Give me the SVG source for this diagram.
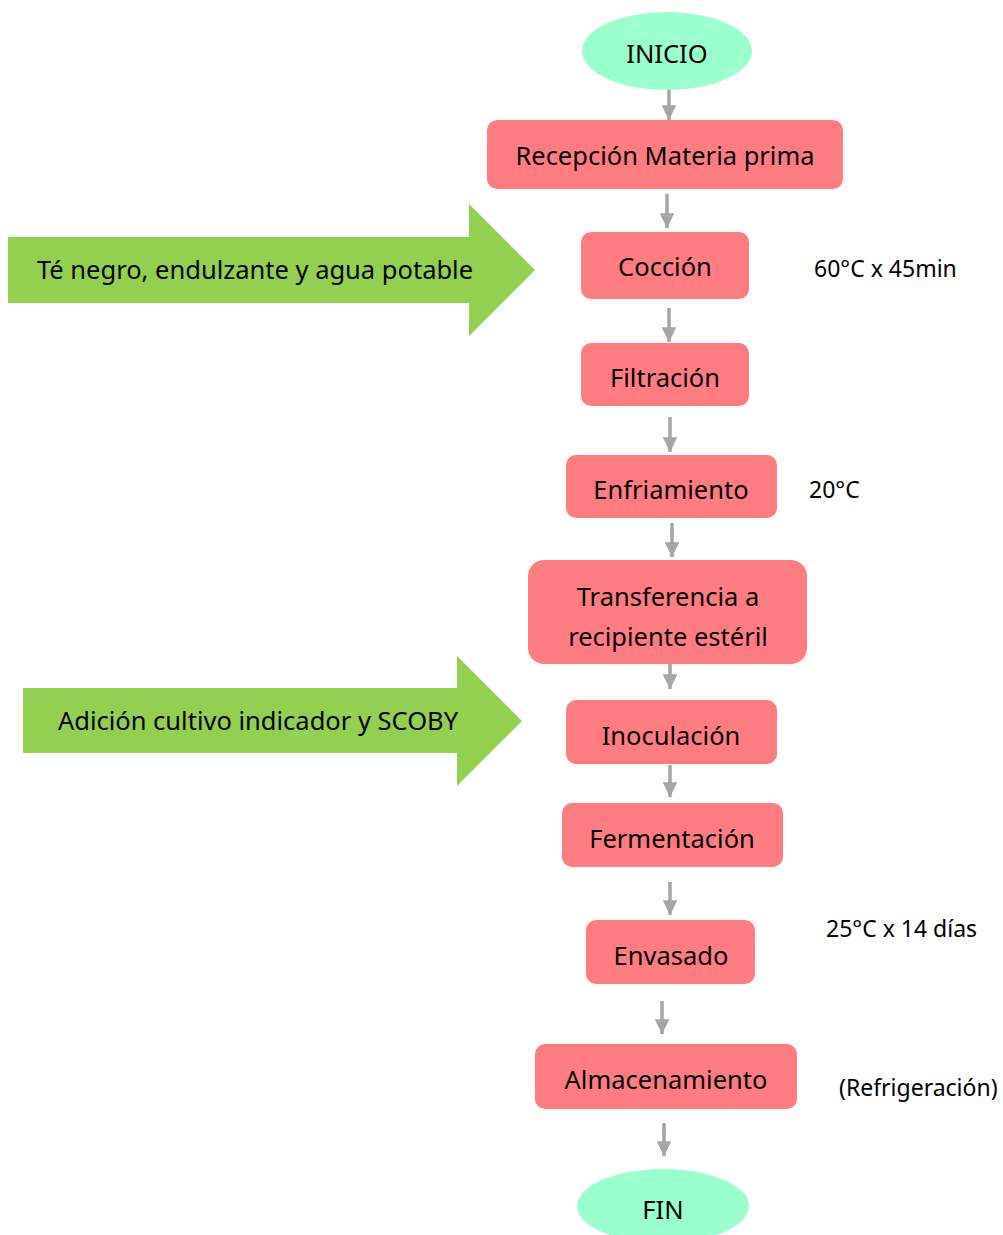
<svg xmlns="http://www.w3.org/2000/svg" width="1003" height="1235" viewBox="0 0 1003 1235">
<defs>
<style>
.t{font-family:"Noto Sans","Open Sans","Liberation Sans",sans-serif;font-size:25.5px;fill:#000;text-anchor:middle;dominant-baseline:central}
.n{font-family:"Noto Sans","Open Sans","Liberation Sans",sans-serif;font-size:23px;fill:#000;dominant-baseline:central}
.box{fill:#FF7C80}
.term{fill:#99FFCC}
.big{fill:#92D050}
.c line{stroke:#A5A5A5;stroke-width:3.5}
</style>
<marker id="ah" viewBox="0 0 10 10" refX="10" refY="5" markerWidth="4.6" markerHeight="4.2" markerUnits="strokeWidth" orient="auto">
<path d="M0,0 L10,5 L0,10 z" fill="#A5A5A5"/>
</marker>
</defs>
<rect width="1003" height="1235" fill="#fff"/>
<g id="connectors" class="c">
<line x1="669" y1="87" x2="669" y2="120" marker-end="url(#ah)"/>
<line x1="667" y1="194" x2="667" y2="228" marker-end="url(#ah)"/>
<line x1="669" y1="308" x2="669" y2="342" marker-end="url(#ah)"/>
<line x1="670" y1="417" x2="670" y2="452" marker-end="url(#ah)"/>
<line x1="672" y1="523" x2="672" y2="557" marker-end="url(#ah)"/>
<line x1="670" y1="664" x2="670" y2="689" marker-end="url(#ah)"/>
<line x1="670" y1="765" x2="670" y2="797" marker-end="url(#ah)"/>
<line x1="670" y1="882" x2="670" y2="915" marker-end="url(#ah)"/>
<line x1="662" y1="1001" x2="662" y2="1034" marker-end="url(#ah)"/>
<line x1="664" y1="1123" x2="664" y2="1156" marker-end="url(#ah)"/>
</g>
<g id="inicio"><ellipse class="term" cx="667" cy="51" rx="85" ry="39"/><text class="t" x="667" y="53">INICIO</text></g>
<g id="recepcion"><rect class="box" x="487" y="120" width="356" height="69" rx="10"/><text class="t" x="665" y="155">Recepción Materia prima</text></g>
<g id="input1"><path class="big" d="M8,237 H469 V204 L535,270 L469,336 V303 H8 Z"/><text class="t" x="255" y="269">Té negro, endulzante y agua potable</text></g>
<g id="coccion"><rect class="box" x="581" y="232" width="168" height="67" rx="10"/><text class="t" x="665" y="266">Cocción</text></g>
<g id="note1"><text class="n" x="814" y="268">60°C x 45min</text></g>
<g id="filtracion"><rect class="box" x="581" y="343" width="168" height="63" rx="10"/><text class="t" x="665" y="377">Filtración</text></g>
<g id="enfriamiento"><rect class="box" x="566" y="455" width="211" height="63" rx="10"/><text class="t" x="671" y="489">Enfriamiento</text></g>
<g id="note2"><text class="n" x="809" y="489">20°C</text></g>
<g id="transferencia"><rect class="box" x="528" y="560" width="279" height="104" rx="16"/><text class="t" x="668" y="596">Transferencia a</text><text class="t" x="668" y="636">recipiente estéril</text></g>
<g id="input2"><path class="big" d="M23,688 H457 V656 L522,721 L457,786 V753 H23 Z"/><text class="t" x="258" y="720">Adición cultivo indicador y SCOBY</text></g>
<g id="inoculacion"><rect class="box" x="566" y="700" width="211" height="64" rx="10"/><text class="t" x="671" y="735">Inoculación</text></g>
<g id="fermentacion"><rect class="box" x="562" y="803" width="221" height="64" rx="10"/><text class="t" x="672" y="838">Fermentación</text></g>
<g id="envasado"><rect class="box" x="586" y="920" width="169" height="64" rx="10"/><text class="t" x="671" y="955">Envasado</text></g>
<g id="note3"><text class="n" x="826" y="928">25°C x 14 días</text></g>
<g id="almacenamiento"><rect class="box" x="535" y="1044" width="262" height="65" rx="10"/><text class="t" x="666" y="1079">Almacenamiento</text></g>
<g id="note4"><text class="n" x="839" y="1087">(Refrigeración)</text></g>
<g id="fin"><ellipse class="term" cx="663" cy="1206" rx="86" ry="37"/><text class="t" x="663" y="1209">FIN</text></g>
</svg>
